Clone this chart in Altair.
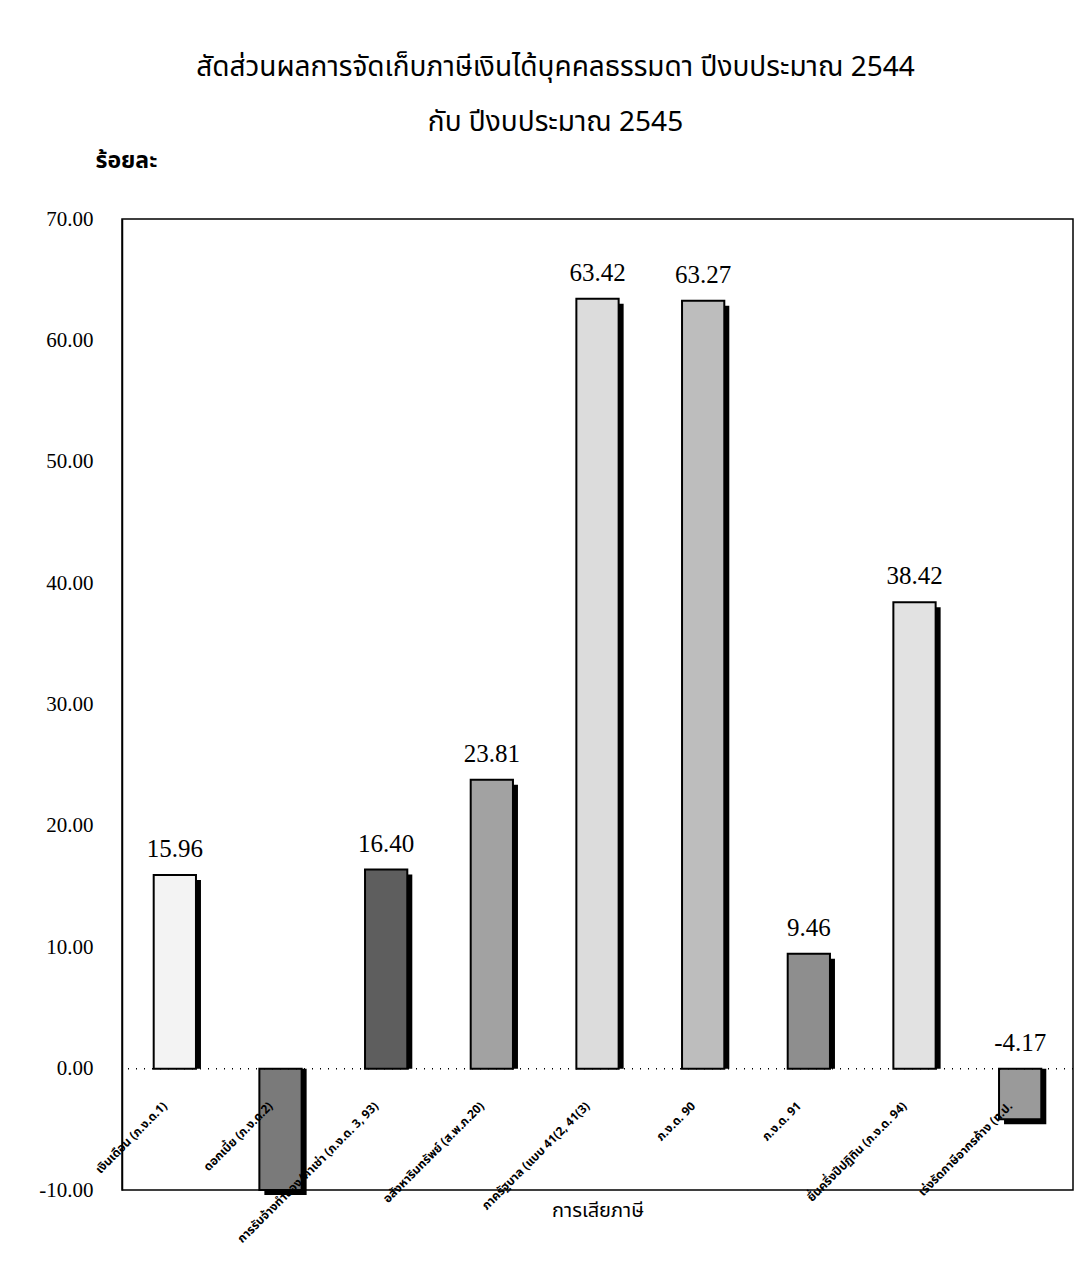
import altair as alt
import pandas as pd

categories = [
    "เงินเดือน (ภ.ง.ด.1)",
    "ดอกเบี้ย (ภ.ง.ด.2)",
    "การรับจ้างทำของ/ค่าเช่า (ภ.ง.ด. 3, 93)",
    "อสังหาริมทรัพย์ (ส.พ.ภ.20)",
    "ภาครัฐบาล (แบบ 41(2, 41(3)",
    "ภ.ง.ด. 90",
    "ภ.ง.ด. 91",
    "ยื่นครึ่งปีปฏิทิน (ภ.ง.ด. 94)",
    "เร่งรัดภาษีอากรค้าง (ท.ป.",
]
values = [15.96, -10.0, 16.40, 23.81, 63.42, 63.27, 9.46, 38.42, -4.17]
value_labels = ["15.96", "", "16.40", "23.81", "63.42", "63.27", "9.46", "38.42", "-4.17"]
y_ticks = [-10, 0, 10, 20, 30, 40, 50, 60, 70]

# approximate tones of the hatch patterns of the original
fills = ["#f3f3f3", "#7a7a7a", "#5e5e5e", "#a2a2a2", "#dcdcdc",
         "#bdbdbd", "#8e8e8e", "#e2e2e2", "#9a9a9a"]

df = pd.DataFrame({"cat": categories, "value": values, "lab": value_labels})

THAI = "Noto Sans Thai, Loma, Garuda, Tlwg Typo, DejaVu Sans, sans-serif"
SERIF = "Liberation Serif, Times New Roman, serif"

xscale = alt.Scale(paddingInner=0.6, paddingOuter=0.3)
yscale = alt.Scale(domain=[-10, 70], nice=False, zero=False)
X = alt.X("cat:N", sort=categories, scale=xscale,
          axis=alt.Axis(labels=False, ticks=False, domain=False, title="การเสียภาษี",
                        titleFont=THAI, titleFontSize=20, titleFontWeight="normal",
                        titleColor="black", titlePadding=10))

base = alt.Chart(df)

shadow = base.mark_bar(color="black", xOffset=5, yOffset=5).encode(
    x=X, y=alt.Y("value:Q", scale=yscale), y2=alt.datum(0))

bars = base.mark_bar(stroke="black", strokeWidth=2).encode(
    x=X,
    y=alt.Y("value:Q", scale=yscale,
            axis=alt.Axis(values=y_ticks, format=".2f", ticks=False, grid=False,
                          labelExpr="replace(datum.label, '\u2212', '-')",
                          domainColor="black", domainWidth=1.5,
                          labelFont=SERIF, labelFontSize=21, labelColor="black",
                          labelPadding=29,
                          title="ร้อยละ", titleAngle=0, titleAlign="left",
                          titleBaseline="alphabetic", titleX=-27, titleY=-52,
                          titleFont=THAI, titleFontSize=23, titleFontWeight="bold",
                          titleColor="black")),
    y2=alt.datum(0),
    fill=alt.Fill("cat:N", sort=categories, scale=alt.Scale(domain=categories, range=fills),
                  legend=None),
)

zero = alt.Chart(pd.DataFrame({"z": [0]})).mark_rule(
    color="black", strokeDash=[1, 7], strokeWidth=1.5).encode(
    y=alt.Y("z:Q", scale=yscale))

vlabels = base.transform_calculate(ly="max(datum.value, 0)").mark_text(
    font=SERIF, fontSize=25, color="black", baseline="alphabetic", dy=-18
).encode(x=X, y=alt.Y("ly:Q", scale=yscale), text="lab:N")

clabels = base.transform_calculate(z="0").mark_text(
    font=THAI, fontSize=12, fontWeight="bold", color="black", angle=315,
    align="right", baseline="middle", dx=-32, dy=18
).encode(x=X, y=alt.Y("z:Q", scale=yscale), text="cat:N")

chart = alt.layer(shadow, bars, zero, vlabels, clabels).properties(
    width=951, height=971,
    title=alt.TitleParams(
        text=["สัดส่วนผลการจัดเก็บภาษีเงินได้บุคคลธรรมดา ปีงบประมาณ 2544", "กับ ปีงบประมาณ 2545"],
        font=THAI, fontSize=28, fontWeight="normal", lineHeight=55, color="black",
        anchor="middle", dx=-42, offset=12),
    padding={"left": 114, "top": 211, "right": 6, "bottom": 62},
    autosize=alt.AutoSizeParams(type="none"),
).configure(background="white").configure_view(stroke="black", strokeWidth=1.5)

chart.save("out.html", embed_options={"renderer": "svg", "actions": False})
